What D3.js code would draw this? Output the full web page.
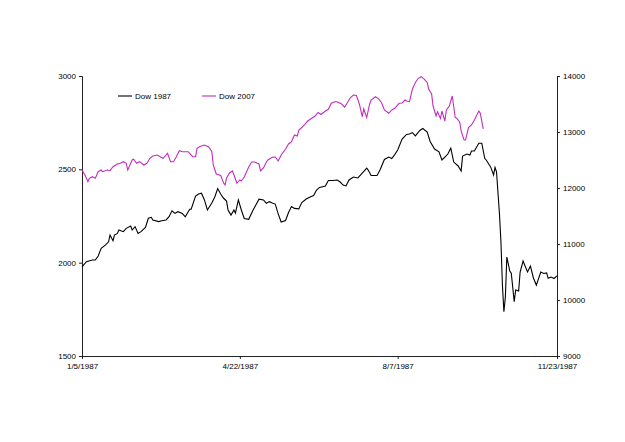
<!DOCTYPE html>
<html>
<head>
<meta charset="utf-8">
<script src="https://cdn.jsdelivr.net/npm/d3@7"></script>
<style>
  body { margin: 0; background: #fff; }
  text { font-family: "Liberation Sans", Arial, sans-serif; }
</style>
</head>
<body>
<div id="chart"></div>
<script>
// Series data: day offsets counted from 1/5/1987
const days1987 = [0, 3, 7, 9, 11, 13, 16, 18, 19, 21, 22, 24, 25, 28, 30, 33, 34, 36, 38, 40,
  43, 45, 47, 48, 52, 54, 57, 59, 61, 63, 65, 68, 70, 73, 74, 77, 79, 81, 83, 85,
  88, 90, 92, 94, 96, 98, 99, 101, 103, 104, 106, 108, 110, 113, 116, 120, 123, 125, 127, 129,
  131, 133, 135, 138, 140, 142, 144, 147, 149, 152, 155, 157, 159, 161, 165, 167, 170, 173, 175, 177,
  179, 181, 184, 187, 190, 193, 194, 196, 200, 202, 205, 208, 210, 212, 214, 217, 220, 222, 224, 226,
  229, 231, 234, 236, 239, 242, 244, 246, 248, 250, 252, 255, 257, 258, 261, 263, 264, 266, 269, 271,
  273, 274, 277, 279, 280, 281, 282, 283, 284, 285, 286, 287, 288, 290, 291, 293, 294, 296, 297, 299,
  302, 304, 306, 308, 311, 313, 315, 316, 318, 320, 322];
const dow1987 = [1978, 2005, 2014, 2014, 2036, 2077, 2095, 2112, 2148, 2118, 2148, 2157, 2175, 2166, 2184, 2196, 2175, 2193, 2157, 2166,
  2189, 2238, 2243, 2229, 2220, 2225, 2229, 2246, 2278, 2264, 2273, 2264, 2246, 2286, 2286, 2357, 2368, 2372, 2336, 2282,
  2320, 2352, 2397, 2368, 2345, 2330, 2282, 2255, 2282, 2266, 2336, 2282, 2237, 2232, 2282, 2340, 2336, 2318, 2327, 2320,
  2314, 2261, 2218, 2226, 2269, 2301, 2291, 2288, 2322, 2341, 2353, 2360, 2389, 2403, 2411, 2440, 2440, 2443, 2432, 2416,
  2411, 2443, 2459, 2454, 2480, 2507, 2496, 2467, 2467, 2496, 2553, 2566, 2558, 2579, 2604, 2662, 2687, 2689, 2697, 2679,
  2708, 2719, 2700, 2649, 2609, 2594, 2550, 2566, 2582, 2613, 2539, 2518, 2491, 2571, 2582, 2577, 2598, 2598, 2640, 2640,
  2559, 2550, 2513, 2470, 2510, 2487, 2373, 2261, 2111, 1880, 1737, 1816, 2030, 1955, 1943, 1791, 1854, 1848, 1950, 2009,
  1950, 1982, 1918, 1880, 1950, 1942, 1945, 1916, 1923, 1915, 1929];

const days2007 = [0, 2, 4, 5, 7, 9, 11, 13, 14, 17, 19, 21, 24, 26, 28, 30, 31, 34, 35, 37,
  39, 42, 44, 46, 48, 51, 53, 55, 58, 60, 62, 64, 66, 68, 72, 75, 77, 78, 80, 83,
  86, 88, 89, 91, 94, 96, 97, 98, 100, 102, 104, 105, 107, 108, 110, 113, 115, 117, 120, 121,
  123, 125, 126, 129, 131, 133, 135, 138, 140, 142, 144, 146, 147, 149, 151, 153, 156, 158, 160, 162,
  165, 167, 169, 172, 174, 176, 178, 180, 182, 184, 186, 188, 190, 191, 193, 195, 196, 199, 201, 203,
  205, 208, 210, 212, 215, 217, 219, 220, 222, 224, 226, 228, 230, 232, 234, 235, 237, 238, 240, 241,
  243, 244, 246, 247, 249, 251, 253, 254, 256, 257, 259, 260, 262, 264, 266, 269, 270, 272];
const dow2007 = [12321, 12232, 12113, 12173, 12202, 12173, 12291, 12321, 12291, 12321, 12309, 12380, 12429, 12441, 12470, 12441, 12321, 12500, 12513, 12441,
  12470, 12411, 12441, 12530, 12571, 12589, 12559, 12530, 12620, 12470, 12470, 12559, 12666, 12648, 12648, 12559, 12559, 12709, 12741, 12768,
  12732, 12648, 12411, 12250, 12223, 12089, 12054, 12179, 12268, 12304, 12161, 12084, 12143, 12125, 12196, 12375, 12464, 12464, 12429, 12304,
  12357, 12464, 12500, 12548, 12554, 12482, 12589, 12696, 12786, 12827, 12946, 12929, 13036, 13080, 13134, 13196, 13250, 13286, 13348, 13313,
  13375, 13405, 13513, 13545, 13527, 13500, 13446, 13527, 13616, 13661, 13652, 13500, 13273, 13411, 13259, 13500, 13571, 13630, 13593, 13527,
  13393, 13334, 13393, 13423, 13513, 13518, 13571, 13554, 13541, 13768, 13884, 13959, 13988, 13946, 13884, 13768, 13679, 13464, 13286, 13363,
  13241, 13375, 13196, 13393, 13464, 13643, 13259, 13245, 13179, 13018, 12857, 12857, 13080, 13125, 13214, 13375, 13334, 13054];

// Axis ticks
const xTickLabels = ["1/5/1987", "4/22/1987", "8/7/1987", "11/23/1987"];
const leftTicks = [1500, 2000, 2500, 3000];
const rightTicks = [9000, 10000, 11000, 12000, 13000, 14000];
const seriesNames = ["Dow 1987", "Dow 2007"];
const seriesColors = ["#000000", "#c02ec0"];

const width = 625;
const height = 442;
const margin = { top: 76, right: 68, bottom: 86, left: 82 };

const svg = d3.select("#chart")
    .append("svg")
    .attr("width", width)
    .attr("height", height);

svg.append("rect").attr("width", width).attr("height", height).attr("fill", "#fff");

const parseDate = d3.timeParse("%m/%d/%Y");
const startDate = parseDate("01/05/1987");
const tickDates = xTickLabels.map(s => d3.timeParse("%-m/%-d/%Y")(s));

const xScale = d3.scaleTime()
    .domain([tickDates[0], tickDates[tickDates.length - 1]])
    .range([margin.left, width - margin.right]);

const yLeft = d3.scaleLinear()
    .domain([1500, 3000])
    .range([height - margin.bottom, margin.top]);

const yRight = d3.scaleLinear()
    .domain([9000, 14000])
    .range([height - margin.bottom, margin.top]);

const data1987 = days1987.map((d, i) => ({ date: d3.timeDay.offset(startDate, d), value: dow1987[i] }));
const data2007 = days2007.map((d, i) => ({ date: d3.timeDay.offset(startDate, d), value: dow2007[i] }));

// Axes
const xAxis = d3.axisBottom(xScale)
    .tickValues(tickDates)
    .tickSize(3)
    .tickFormat((d, i) => xTickLabels[i]);

const leftAxis = d3.axisLeft(yLeft).tickValues(leftTicks).tickSize(3).tickFormat(d3.format("d"));
const rightAxis = d3.axisRight(yRight).tickValues(rightTicks).tickSize(3).tickFormat(d3.format("d"));

function styleAxis(g) {
    g.select(".domain").attr("stroke", "#222").attr("stroke-width", 1);
    g.selectAll(".tick line").attr("stroke", "#222");
    g.selectAll(".tick text").attr("fill", "#000").style("font-size", "8px")
        .style("font-family", "'Liberation Sans', Arial, sans-serif");
}

svg.append("g")
    .attr("transform", `translate(0, ${height - margin.bottom})`)
    .call(xAxis)
    .call(styleAxis)
    .call(g => g.selectAll(".tick text").attr("dy", "0.9em"));

svg.append("g")
    .attr("transform", `translate(${margin.left}, 0)`)
    .call(leftAxis)
    .call(styleAxis);

svg.append("g")
    .attr("transform", `translate(${width - margin.right}, 0)`)
    .call(rightAxis)
    .call(styleAxis)
    .call(g => g.selectAll(".tick text").attr("x", 6));

// Lines
const line1987 = d3.line().x(d => xScale(d.date)).y(d => yLeft(d.value));
const line2007 = d3.line().x(d => xScale(d.date)).y(d => yRight(d.value));

svg.append("path")
    .datum(data2007)
    .attr("fill", "none")
    .attr("stroke", seriesColors[1])
    .attr("stroke-width", 1.1)
    .attr("d", line2007);

svg.append("path")
    .datum(data1987)
    .attr("fill", "none")
    .attr("stroke", seriesColors[0])
    .attr("stroke-width", 1.1)
    .attr("d", line1987);

// Legend
const legend = svg.append("g").attr("transform", "translate(118, 96)");
seriesNames.forEach((name, i) => {
    const g = legend.append("g").attr("transform", `translate(${i * 84}, 0)`);
    g.append("line")
        .attr("x1", 0).attr("x2", 14)
        .attr("y1", 0).attr("y2", 0)
        .attr("stroke", seriesColors[i])
        .attr("stroke-width", 1.1);
    g.append("text")
        .attr("x", 17)
        .attr("y", 0)
        .attr("dy", "0.35em")
        .style("font-size", "8px")
        .text(name);
});
</script>
</body>
</html>
